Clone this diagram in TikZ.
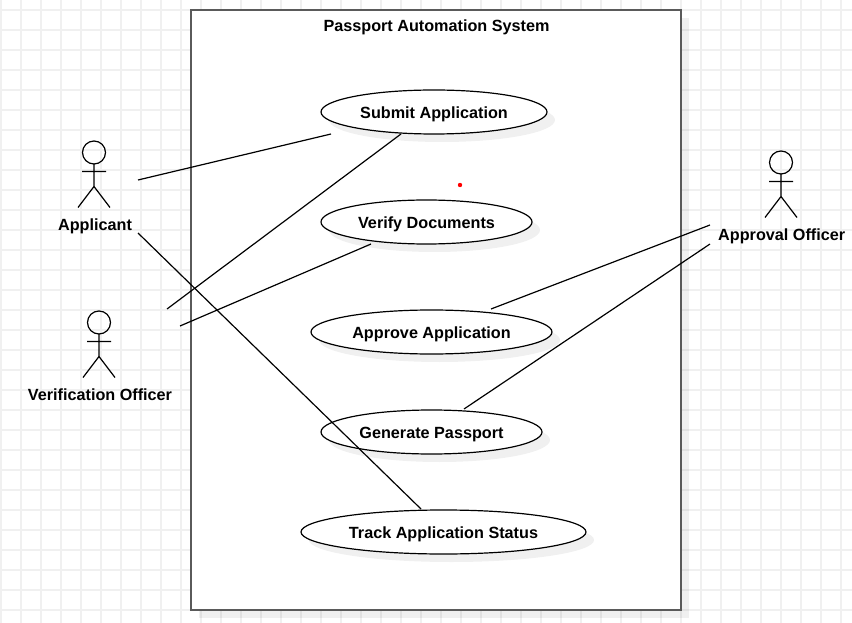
\documentclass[tikz,border=0pt]{standalone}
\usepackage{fontspec}
\setmainfont{Liberation Sans}
\usetikzlibrary{shapes.geometric,shadows}
\definecolor{gridgray}{HTML}{F0F0F0}
\definecolor{framegray}{HTML}{5A5A5A}
\tikzset{
  x=0.75pt,y=-0.75pt,
  softshadow/.style={general shadow={shadow xshift=6pt,shadow yshift=-6pt,fill=black,opacity=0.06}},
  gridline/.style={draw=gridgray,line width=1.5pt},
  labelfont/.style={font=\bfseries\fontsize{12.15}{14}\selectfont,text height=10.9pt,text depth=2.5pt},
  usecase/.style={ellipse,draw=black,fill=white,line width=0.9pt,softshadow,inner sep=0pt,labelfont,text height=12.2pt},
  system/.style={rectangle,draw=framegray,fill=white,line width=1.5pt,softshadow,inner sep=0pt},
  label/.style={inner sep=0pt,labelfont},
  assoc/.style={draw=black,line width=0.9pt},
  pics/stickman/.style={code={
    \draw[assoc] (0,0) circle[radius=11.5];
    \draw[assoc] (0,11.5) -- (0,34) (-12,19) -- (12,19) (-16,55) -- (0,34) -- (16,55);
  }}
}
\begin{document}
\begin{tikzpicture}
\useasboundingbox (0,0) rectangle (852,623);
\fill[white] (0,0) rectangle (852,623);
\foreach \gx in {1,21,...,841} \draw[gridline] (\gx,0) -- (\gx,623);
\foreach \gy in {10,30,...,610} \draw[gridline] (0,\gy) -- (852,\gy);

\node[system,minimum width=367.5pt,minimum height=450pt] (frame) at (436,310) {};
\node[label] (title) at (436.5,26) {Passport Automation System};

\node[usecase,minimum width=169.5pt,minimum height=33pt] (submit) at (434,112) {Submit Application};
\node[usecase,minimum width=158.25pt,minimum height=33pt] (verify) at (426.5,222) {Verify Documents};
\node[usecase,minimum width=180.75pt,minimum height=33pt] (approve) at (431.5,332) {Approve Application};
\node[usecase,minimum width=165.75pt,minimum height=33pt] (generate) at (431.5,432) {Generate Passport};
\node[usecase,minimum width=213.75pt,minimum height=33pt] (track) at (443.5,532) {Track Application Status};

\pic at (94,152.5) {stickman};
\pic at (99,322.5) {stickman};
\pic at (781,162.5) {stickman};
\node[label] (applicant) at (95,225) {Applicant};
\node[label] (verifier) at (100,394.5) {Verification Officer};
\node[label] (approver) at (781.7,235) {Approval Officer};

\coordinate (a1) at (138,180);
\coordinate (a2) at (138,233);
\coordinate (v1) at (167,309);
\coordinate (v2) at (180,326);
\coordinate (o1) at (710,225);
\coordinate (o2) at (710,244);
\coordinate (s1) at (331,134);
\coordinate (s2) at (401,134);
\coordinate (d1) at (371,244);
\coordinate (p1) at (491,309);
\coordinate (g1) at (464,409);
\coordinate (t1) at (421,509);
\draw[assoc] (a1) -- (s1);
\draw[assoc] (v1) -- (s2);
\draw[assoc] (v2) -- (d1);
\draw[assoc] (a2) -- (t1);
\draw[assoc] (o1) -- (p1);
\draw[assoc] (o2) -- (g1);

\fill[red] (460,185) circle[radius=2.2];
\end{tikzpicture}
\end{document}
